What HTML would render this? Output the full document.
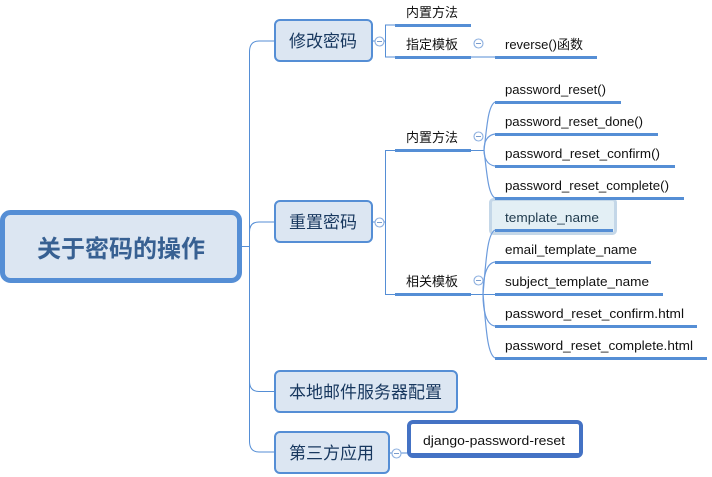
<!DOCTYPE html>
<html lang="zh">
<head>
<meta charset="utf-8">
<title>关于密码的操作</title>
<style>
html,body{margin:0;padding:0;background:#fff}
svg{display:block}
text{font-family:"Liberation Sans","Noto Sans CJK SC",sans-serif;fill:#111}
.cn{font-family:"Noto Sans CJK SC","WenQuanYi Zen Hei",sans-serif}
.t{font-size:17px;fill:#17375e;font-family:"Noto Sans CJK SC",sans-serif}
.s{font-size:13px;fill:#111;font-family:"Noto Sans CJK SC",sans-serif}
.l{font-size:13px;fill:#111}
.line{fill:none;stroke:#558ed5;stroke-width:1}
.curve{fill:none;stroke:#6c9bdc;stroke-width:1.2}
.bar{fill:#558ed5}
.node{fill:#dce6f2;stroke:#558ed5;stroke-width:2}
.c{fill:#fff;stroke:#8db0e0;stroke-width:1.1}
.m{stroke:#7a9ccc;stroke-width:1}
</style>
</head>
<body>
<svg width="712" height="477" viewBox="0 0 712 477" xmlns="http://www.w3.org/2000/svg">
<!-- trunk -->
<path class="line" d="M275 41H259Q249.500 41 249.500 52V441Q249.500 452 259 452H275"/>
<path class="line" d="M242 246.500H249.500M249.500 232Q249.500 222 259 222H275M249.500 381Q249.500 391.500 259 391.500H275"/>
<!-- root -->
<rect x="2.500" y="212.500" width="237" height="68" rx="8" fill="#dce6f2" stroke="#558ed5" stroke-width="5"/>
<text x="121" y="257" font-size="24" font-weight="700" text-anchor="middle" class="cn" style="fill:#376092">关于密码的操作</text>
<!-- level 1 nodes -->
<rect class="node" x="275" y="20" width="97" height="41" rx="5"/>
<text class="t" x="289" y="47">修改密码</text>
<rect class="node" x="275" y="201" width="97" height="41" rx="5"/>
<text class="t" x="289" y="228">重置密码</text>
<rect class="node" x="275" y="371" width="182" height="41" rx="5"/>
<text class="t" x="289" y="398">本地邮件服务器配置</text>
<rect class="node" x="275" y="432" width="114" height="41" rx="5"/>
<text class="t" x="289" y="459">第三方应用</text>
<!-- brackets -->
<path class="line" d="M372 41H385.500M395 25H385.500V57H395M471 57H495"/>
<path class="line" d="M372 222H385.500M395 150.500H385.500V294.500H395M471 150.500H484M471 294.500H495"/>
<path class="line" d="M389 453H409"/>
<!-- level 2 bars -->
<rect class="bar" x="395" y="24" width="76" height="3"/>
<rect class="bar" x="395" y="56" width="76" height="3"/>
<rect class="bar" x="495" y="56" width="102" height="3"/>
<rect class="bar" x="395" y="149" width="76" height="3"/>
<rect class="bar" x="395" y="293" width="76" height="3"/>
<text class="s" x="406" y="17">内置方法</text>
<text class="s" x="406" y="49">指定模板</text>
<text class="s" x="406" y="142">内置方法</text>
<text class="s" x="406" y="286">相关模板</text>
<!-- template highlight -->
<rect x="490.500" y="199.500" width="125" height="34" rx="3" fill="#e3eff5" stroke="#c4d7e8" stroke-width="3"/>
<!-- curves -->
<path class="curve" d="M484 150C487 126 488 106 495 102"/>
<path class="curve" d="M484 150C484 142 487 135 495 134"/>
<path class="curve" d="M484 150C484 158 487 165 495 166"/>
<path class="curve" d="M484 150C487 174 488 194 495 198"/>
<path class="curve" d="M483 294C486 262 487 234 495 230"/>
<path class="curve" d="M483 294C483 278 486 263 495 262"/>
<path class="curve" d="M483 294C483 310 486 325 495 326"/>
<path class="curve" d="M483 294C486 326 487 354 495 358"/>
<!-- leaf bars -->
<rect class="bar" x="495" y="101" width="126" height="3"/>
<rect class="bar" x="495" y="133" width="163" height="3"/>
<rect class="bar" x="495" y="165" width="180" height="3"/>
<rect class="bar" x="495" y="197" width="189" height="3"/>
<rect class="bar" x="495" y="229" width="118" height="3"/>
<rect class="bar" x="495" y="261" width="156" height="3"/>
<rect class="bar" x="495" y="293" width="168" height="3"/>
<rect class="bar" x="495" y="325" width="202" height="3"/>
<rect class="bar" x="495" y="357" width="212" height="3"/>
<!-- leaf text -->
<text class="l" x="505" y="49" textLength="52" lengthAdjust="spacingAndGlyphs">reverse()</text>
<text class="s" x="557" y="49">函数</text>
<text class="l" x="505" y="94" textLength="101" lengthAdjust="spacingAndGlyphs">password_reset()</text>
<text class="l" x="505" y="126" textLength="138" lengthAdjust="spacingAndGlyphs">password_reset_done()</text>
<text class="l" x="505" y="158" textLength="155" lengthAdjust="spacingAndGlyphs">password_reset_confirm()</text>
<text class="l" x="505" y="190" textLength="164" lengthAdjust="spacingAndGlyphs">password_reset_complete()</text>
<text class="l" x="505" y="222" textLength="94" lengthAdjust="spacingAndGlyphs" style="fill:#1f3a4d">template_name</text>
<text class="l" x="505" y="254" textLength="132" lengthAdjust="spacingAndGlyphs">email_template_name</text>
<text class="l" x="505" y="286" textLength="144" lengthAdjust="spacingAndGlyphs">subject_template_name</text>
<text class="l" x="505" y="318" textLength="179" lengthAdjust="spacingAndGlyphs">password_reset_confirm.html</text>
<text class="l" x="505" y="350" textLength="188" lengthAdjust="spacingAndGlyphs">password_reset_complete.html</text>
<!-- django -->
<rect x="409" y="422" width="172" height="34" rx="4" fill="#fff" stroke="#4472c4" stroke-width="4"/>
<rect x="409" y="453" width="172" height="3" fill="#4472c4"/>
<text class="l" x="423" y="445" textLength="142" lengthAdjust="spacingAndGlyphs">django-password-reset</text>
<!-- collapse markers -->
<g>
<circle class="c" cx="379.500" cy="41.500" r="4.500"/><path class="m" d="M377 41.500H382"/>
<circle class="c" cx="478.500" cy="43.500" r="4.500"/><path class="m" d="M476 43.500H481"/>
<circle class="c" cx="478.500" cy="136.500" r="4.500"/><path class="m" d="M476 136.500H481"/>
<circle class="c" cx="379.500" cy="222.500" r="4.500"/><path class="m" d="M377 222.500H382"/>
<circle class="c" cx="478.500" cy="280.500" r="4.500"/><path class="m" d="M476 280.500H481"/>
<circle class="c" cx="396.500" cy="453.500" r="4.500"/><path class="m" d="M394 453.500H399"/>
</g>
</svg>
</body>
</html>
